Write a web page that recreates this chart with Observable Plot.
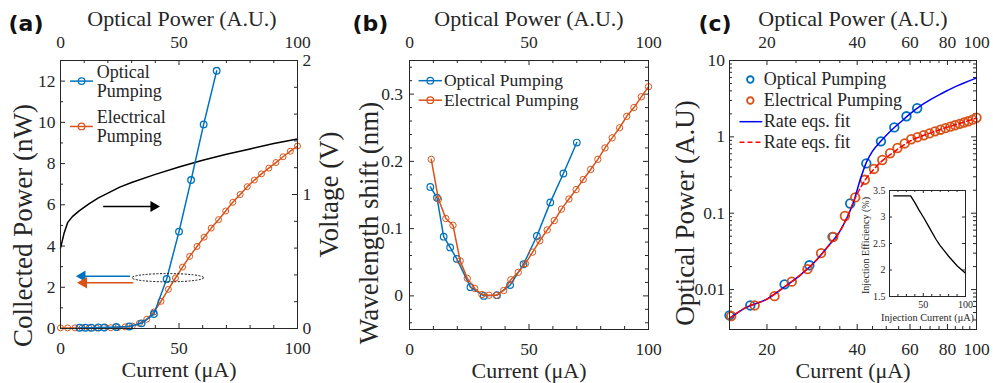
<!DOCTYPE html>
<html><head><meta charset="utf-8">
<script src="https://cdn.jsdelivr.net/npm/d3@7"></script>
<script src="https://cdn.jsdelivr.net/npm/@observablehq/plot@0.6"></script>
<style>
body{margin:0;background:#fff;}
#chart{position:relative;width:993px;height:383px;overflow:hidden;background:#fff;}
#chart svg{position:absolute;left:0;top:0;}
</style></head><body><div id="chart"></div>
<script>
// ---------- Panel (a): collected power & voltage vs current ----------
const aOptX = [8, 10.5, 13, 16, 18.5, 23.5, 29, 34.2, 39.4, 44.8, 50, 55.1, 60.4, 65.9];
const aOptY = [0.04, 0.04, 0.04, 0.05, 0.05, 0.07, 0.1, 0.25, 0.7, 2.4, 4.7, 7.2, 9.9, 12.5];
const aEleX = [0, 3, 6.1, 9.1, 12.1, 15.2, 18.2, 21.2, 24.2, 27.3, 30.3, 33.3, 36.4, 39.4, 42.4, 45.5, 48.5, 51.5, 54.5, 57.6, 60.6, 63.6, 66.7, 69.7, 72.7, 75.8, 78.8, 81.8, 84.8, 87.9, 90.9, 93.9, 97, 100];
const aEleY = [0.03, 0.03, 0.03, 0.03, 0.03, 0.03, 0.04, 0.04, 0.05, 0.08, 0.12, 0.25, 0.45, 0.8, 1.32, 1.9, 2.45, 2.98, 3.5, 3.98, 4.43, 4.87, 5.28, 5.7, 6.12, 6.5, 6.88, 7.2, 7.5, 7.78, 8.05, 8.33, 8.6, 8.85];
const aVoltX = [0, 1.5, 3, 5, 8, 12, 16, 20, 25, 30, 40, 50, 60, 70, 80, 90, 100];
const aVoltV = [0.6, 0.71, 0.79, 0.835, 0.88, 0.93, 0.975, 1.01, 1.055, 1.09, 1.15, 1.205, 1.255, 1.3, 1.34, 1.38, 1.415];
const aXMajor = [0, 50, 100];
const aXMinor = [10, 20, 30, 40, 60, 70, 80, 90];
const aYMajor = [0, 2, 4, 6, 8, 10, 12];
const aYMinor = [1, 3, 5, 7, 9, 11, 13];
const aVMajor = [0, 1, 2];
const aVMinor = [0.2, 0.4, 0.6, 0.8, 1.2, 1.4, 1.6, 1.8];

// ---------- Panel (b): wavelength shift ----------
const bOptX = [8.7, 11.5, 14.3, 17.0, 19.8, 25.5, 31.1, 36.6, 42.1, 47.7, 53.3, 58.9, 64.4, 70.0];
const bOptY = [0.162, 0.146, 0.088, 0.072, 0.055, 0.013, 0.0, 0.001, 0.016, 0.047, 0.089, 0.139, 0.182, 0.228];
const bEleX = [9.1, 12.1, 15.2, 18.2, 21.2, 24.2, 27.3, 30.3, 33.3, 36.4, 39.4, 42.4, 45.5, 48.5, 51.5, 54.5, 57.6, 60.6, 63.6, 66.7, 69.7, 72.7, 75.8, 78.8, 81.8, 84.8, 87.9, 90.9, 93.9, 97, 100];
const bEleY = [0.203, 0.144, 0.115, 0.105, 0.052, 0.026, 0.011, 0.002, 0.001, 0.001, 0.008, 0.024, 0.035, 0.048, 0.065, 0.082, 0.098, 0.112, 0.129, 0.144, 0.158, 0.173, 0.188, 0.203, 0.220, 0.235, 0.250, 0.267, 0.280, 0.296, 0.311];
const bXMajor = [0, 50, 100];
const bXMinor = [10, 20, 30, 40, 60, 70, 80, 90];
const bYMajor = [0, 0.1, 0.2, 0.3];
const bYMinor = [-0.04, -0.02, 0.02, 0.04, 0.06, 0.08, 0.12, 0.14, 0.16, 0.18, 0.22, 0.24, 0.26, 0.28, 0.32, 0.34];

// ---------- Panel (c): optical power (log-log) ----------
const cOptX = [15, 17.6, 22.9, 27.7, 33.1, 37.9, 42.9, 48, 53.2, 58.4, 63.4];
const cOptY = [0.0046, 0.0062, 0.0117, 0.0208, 0.049, 0.134, 0.449, 0.873, 1.33, 1.86, 2.37];
const cEleX = [15.2, 18.2, 21.2, 24.2, 27.3, 30.3, 33.3, 36.4, 39.4, 42.4, 45.5, 48.5, 51.5, 54.5, 57.6, 60.6, 63.6, 66.7, 69.7, 72.7, 75.8, 78.8, 81.8, 84.8, 87.9, 90.9, 93.9, 97, 100];
const cEleY = [0.0045, 0.0062, 0.0082, 0.0127, 0.0185, 0.030, 0.049, 0.092, 0.161, 0.274, 0.38, 0.498, 0.61, 0.715, 0.82, 0.93, 0.99, 1.05, 1.11, 1.18, 1.24, 1.3, 1.36, 1.42, 1.48, 1.54, 1.6, 1.68, 1.78];
const cFitX = [15, 17, 20, 23, 26, 29, 32, 35, 37, 39, 41, 43, 45, 48, 52, 56, 60, 65, 70, 75, 80, 85, 90, 95, 100];
const cFitOptY = [0.0042, 0.0058, 0.0075, 0.011, 0.0158, 0.0235, 0.037, 0.058, 0.088, 0.145, 0.28, 0.47, 0.65, 0.88, 1.22, 1.58, 2.0, 2.55, 3.05, 3.55, 4.05, 4.55, 5.0, 5.45, 5.9];
const cFitEleY = [0.0042, 0.0058, 0.0075, 0.011, 0.0158, 0.0235, 0.037, 0.058, 0.088, 0.145, 0.215, 0.29, 0.36, 0.47, 0.6, 0.74, 0.88, 1.01, 1.12, 1.23, 1.34, 1.44, 1.54, 1.65, 1.76];
const cXMajor = [20, 40, 60, 80, 100];
const cXMinor = [25, 30, 35, 45, 50, 55, 65, 70, 75, 85, 90, 95];
const cYMajor = [0.01, 0.1, 1, 10];
const cYMinor = [0.003, 0.004, 0.005, 0.006, 0.007, 0.008, 0.009, 0.02, 0.03, 0.04, 0.05, 0.06, 0.07, 0.08, 0.09, 0.2, 0.3, 0.4, 0.5, 0.6, 0.7, 0.8, 0.9, 2, 3, 4, 5, 6, 7, 8, 9];

// ---------- Inset: injection efficiency ----------
const iX = [15, 35, 40, 45, 50, 55, 60, 65, 70, 75, 80, 85, 90, 95, 100];
const iY = [3.4, 3.4, 3.27, 3.13, 3.0, 2.86, 2.72, 2.58, 2.46, 2.36, 2.26, 2.17, 2.08, 2.01, 1.94];
const iXMajor = [50, 100];
const iXMinor = [20, 30, 40, 60, 70, 80, 90];
const iYMajor = [1.5, 2, 2.5, 3, 3.5];

// ---------- styling ----------
const INK = "#262626", BLUE = "#0072BD", ORANGE = "#D95319";
const W = 993, H = 383;
const SERIF = "'Liberation Serif', 'Times New Roman', serif";
const VSCALE = 13 / 2; // voltage axis (0–2 V) mapped onto 0–13 nW
const zip = (xs, ys) => xs.map((x, i) => ({x, y: ys[i]}));

const tickB = (v, len, fh) => Plot.ruleX(v, {x: d => d, insetTop: fh - len, stroke: INK, strokeWidth: 1});
const tickT = (v, len, fh) => Plot.ruleX(v, {x: d => d, insetBottom: fh - len, stroke: INK, strokeWidth: 1});
const tickL = (v, len, fw, f = d => d) => Plot.ruleY(v, {y: f, insetRight: fw - len, stroke: INK, strokeWidth: 1});
const tickR = (v, len, fw, f = d => d) => Plot.ruleY(v, {y: f, insetLeft: fw - len, stroke: INK, strokeWidth: 1});
const fmt = d => String(d);
const baseStyle = {background: "transparent", overflow: "visible", fontFamily: SERIF, fontSize: "17.5px", color: INK};

function ellipseMark(e) {
  return (index, scales) => {
    const cx = scales.x(e.cx), cy = scales.y(e.cy);
    const rx = Math.abs(scales.x(e.cx + e.rx) - cx), ry = Math.abs(scales.y(e.cy + e.ry) - cy);
    const el = document.createElementNS("http://www.w3.org/2000/svg", "ellipse");
    el.setAttribute("cx", cx); el.setAttribute("cy", cy);
    el.setAttribute("rx", rx); el.setAttribute("ry", ry);
    el.setAttribute("fill", "none"); el.setAttribute("stroke", "#111");
    el.setAttribute("stroke-width", 1); el.setAttribute("stroke-dasharray", "2,1.5");
    return el;
  };
}
function panelLabel(t, dx) {
  return Plot.text([t], {frameAnchor: "top-left", dx, dy: -30, textAnchor: "start", lineAnchor: "bottom",
    fontFamily: "'DejaVu Sans', sans-serif", fontWeight: "bold", fontSize: 22, fill: "#111"});
}
function titles({bottom, top, left, leftDx, leftDy, topDx = 0, right, rightDx, rightDy}) {
  const m = [
    Plot.text([bottom], {frameAnchor: "bottom", dy: 48, lineAnchor: "bottom", textAnchor: "middle", fontSize: 22, fill: INK}),
    Plot.text([top], {frameAnchor: "top", dx: topDx, dy: -35, lineAnchor: "bottom", textAnchor: "middle", fontSize: 22, fill: INK}),
    Plot.text([left], {frameAnchor: "left", rotate: -90, dx: leftDx, dy: leftDy, lineAnchor: "middle", textAnchor: "middle", fontSize: 27, fill: INK})
  ];
  if (right) m.push(Plot.text([right], {frameAnchor: "right", rotate: -90, dx: rightDx, dy: rightDy, lineAnchor: "middle", textAnchor: "middle", fontSize: 27, fill: INK}));
  return m;
}

const chart = document.getElementById("chart");

// ===== Panel (a) =====
{
  const mL = 60, mR = 696, mT = 60, mB = 55;
  const fw = W - mL - mR, fh = H - mT - mB;
  const opt = zip(aOptX, aOptY), ele = zip(aEleX, aEleY);
  const volt = zip(aVoltX, aVoltV);
  const arrowV = {x1: 18, x2: 39.3, y: 5.92};
  const arrowB = {x1: 29.3, x2: 9.2, y: 2.54};
  const arrowO = {x1: 30.7, x2: 9.8, y: 2.22};
  const ell = {cx: 45.5, cy: 2.44, rx: 15.1, ry: 0.2};
  const legA = [
    {label: "Optical\nPumping", x1: 4, x2: 13.7, xm: 8.9, xt: 15.3, y: 12.0, c: BLUE},
    {label: "Electrical\nPumping", x1: 4, x2: 13.7, xm: 8.9, xt: 15.3, y: 9.8, c: ORANGE}
  ];
  const svg = Plot.plot({
    width: W, height: H, marginLeft: mL, marginRight: mR, marginTop: mT, marginBottom: mB,
    style: baseStyle,
    x: {domain: [0, 100]}, y: {domain: [0, 13]},
    color: {type: "identity"},
    marks: [
      tickB(aXMajor, 5, fh), tickB(aXMinor, 3, fh), tickT(aXMajor, 5, fh), tickT(aXMinor, 3, fh),
      tickL(aYMajor, 5, fw), tickL(aYMinor, 3, fw),
      tickR(aVMajor, 5, fw, d => d * VSCALE), tickR(aVMinor, 3, fw, d => d * VSCALE),
      Plot.line(volt, {x: "x", y: d => d.y * VSCALE, stroke: "#000", strokeWidth: 1.5}),
      Plot.line(ele, {x: "x", y: "y", stroke: ORANGE, strokeWidth: 1.5}),
      Plot.dot(ele, {x: "x", y: "y", r: 3, stroke: ORANGE, strokeWidth: 1, fill: "none"}),
      Plot.line(opt, {x: "x", y: "y", stroke: BLUE, strokeWidth: 1.5}),
      Plot.dot(opt, {x: "x", y: "y", r: 3.3, stroke: BLUE, strokeWidth: 1.3, fill: "none"}),
      // annotation arrows
      Plot.link([arrowV], {x1: "x1", x2: "x2", y1: "y", y2: "y", stroke: "#000", strokeWidth: 1.5}),
      Plot.dot([arrowV], {x: "x2", y: "y", symbol: "triangle", r: 4.1, rotate: 90, fill: "#000", stroke: "none"}),
      Plot.link([arrowB], {x1: "x1", x2: "x2", y1: "y", y2: "y", stroke: BLUE, strokeWidth: 1.5}),
      Plot.dot([arrowB], {x: "x2", y: "y", symbol: "triangle", r: 4.1, rotate: -90, fill: BLUE, stroke: "none"}),
      Plot.link([arrowO], {x1: "x1", x2: "x2", y1: "y", y2: "y", stroke: ORANGE, strokeWidth: 1.5}),
      Plot.dot([arrowO], {x: "x2", y: "y", symbol: "triangle", r: 4.3, rotate: -90, fill: ORANGE, stroke: "none"}),
      ellipseMark(ell),
      // legend
      Plot.link(legA, {x1: "x1", x2: "x2", y1: "y", y2: "y", stroke: d => d.c, strokeWidth: 1.5}),
      Plot.dot(legA, {x: "xm", y: "y", r: 3.3, stroke: d => d.c, strokeWidth: 1.2, fill: "none"}),
      Plot.text(legA, {x: "xt", y: "y", text: "label", textAnchor: "start", lineAnchor: "middle", lineHeight: 1.05, fontSize: 18, fill: INK}),
      // axes
      Plot.axisX(aXMajor, {anchor: "bottom", tickSize: 0, tickPadding: 25, lineAnchor: "bottom", text: fmt, label: null}),
      Plot.axisX(aXMajor, {anchor: "top", tickSize: 0, tickPadding: 13, lineAnchor: "bottom", text: fmt, label: null}),
      Plot.axisY(aYMajor, {anchor: "left", tickSize: 0, tickPadding: 5, text: fmt, label: null}),
      Plot.axisY(aVMajor.map(v => v * VSCALE), {anchor: "right", tickSize: 0, tickPadding: 5, text: d => String(Math.round(d / VSCALE)), label: null}),
      ...titles({bottom: "Current (μA)", top: "Optical Power (A.U.)", topDx: 3, left: "Collected Power (nW)", leftDx: -37, leftDy: 31, right: "Voltage (V)", rightDx: 32, rightDy: 0}),
      panelLabel("(a)", 8 - mL),
      Plot.frame({stroke: INK, strokeWidth: 1})
    ]
  });
  chart.appendChild(svg);
}

// ===== Panel (b) =====
{
  const mL = 409, mR = 345, mT = 60, mB = 54;
  const fw = W - mL - mR, fh = H - mT - mB;
  const opt = zip(bOptX, bOptY), ele = zip(bEleX, bEleY);
  const legB = [
    {label: "Optical Pumping", x1: 3.8, x2: 13.6, xm: 8.7, xt: 14.4, y: 0.32, c: BLUE},
    {label: "Electrical Pumping", x1: 3.8, x2: 13.6, xm: 8.7, xt: 14.4, y: 0.291, c: ORANGE}
  ];
  const svg = Plot.plot({
    width: W, height: H, marginLeft: mL, marginRight: mR, marginTop: mT, marginBottom: mB,
    style: baseStyle,
    x: {domain: [0, 100]}, y: {domain: [-0.05, 0.35]},
    color: {type: "identity"},
    marks: [
      tickB(bXMajor, 5, fh), tickB(bXMinor, 3, fh), tickT(bXMajor, 5, fh), tickT(bXMinor, 3, fh),
      tickL(bYMajor, 5, fw), tickL(bYMinor, 3, fw), tickR(bYMajor, 5, fw), tickR(bYMinor, 3, fw),
      Plot.line(opt, {x: "x", y: "y", stroke: BLUE, strokeWidth: 1.5}),
      Plot.dot(opt, {x: "x", y: "y", r: 3.3, stroke: BLUE, strokeWidth: 1.2, fill: "none"}),
      Plot.line(ele, {x: "x", y: "y", stroke: ORANGE, strokeWidth: 1.5}),
      Plot.dot(ele, {x: "x", y: "y", r: 3.2, stroke: ORANGE, strokeWidth: 1, fill: "none"}),
      Plot.link(legB, {x1: "x1", x2: "x2", y1: "y", y2: "y", stroke: d => d.c, strokeWidth: 1.5}),
      Plot.dot(legB, {x: "xm", y: "y", r: 3.3, stroke: d => d.c, strokeWidth: 1.2, fill: "none"}),
      Plot.text(legB, {x: "xt", y: "y", text: "label", textAnchor: "start", lineAnchor: "middle", fontSize: 17.5, fill: INK}),
      Plot.axisX(bXMajor, {anchor: "bottom", tickSize: 0, tickPadding: 25, lineAnchor: "bottom", text: fmt, label: null}),
      Plot.axisX(bXMajor, {anchor: "top", tickSize: 0, tickPadding: 13, lineAnchor: "bottom", text: fmt, label: null}),
      Plot.axisY(bYMajor, {anchor: "left", tickSize: 0, tickPadding: 6.5, text: fmt, label: null}),
      ...titles({bottom: "Current (μA)", top: "Optical Power (A.U.)", left: "Wavelength shift (nm)", leftDx: -40.5, leftDy: 28}),
      panelLabel("(b)", 352 - mL),
      Plot.frame({stroke: INK, strokeWidth: 1})
    ]
  });
  chart.appendChild(svg);
}

// ===== Panel (c) =====
{
  const mL = 729, mR = 17, mT = 60, mB = 54;
  const fw = W - mL - mR, fh = H - mT - mB;
  const opt = zip(cOptX, cOptY), ele = zip(cEleX, cEleY);
  const fitO = zip(cFitX, cFitOptY), fitE = zip(cFitX, cFitEleY);
  const legPts = [
    {label: "Optical Pumping", xm: 17.6, xt: 19.5, y: 5.63, c: BLUE},
    {label: "Electrical Pumping", xm: 17.6, xt: 19.5, y: 2.99, c: ORANGE}
  ];
  const legLines = [
    {label: "Rate eqs. fit", x1: 16.2, x2: 19.3, xt: 19.5, y: 1.58},
    {label: "Rate eqs. fit", x1: 16.2, x2: 19.3, xt: 19.5, y: 0.847}
  ];
  const svg = Plot.plot({
    width: W, height: H, marginLeft: mL, marginRight: mR, marginTop: mT, marginBottom: mB,
    style: baseStyle,
    x: {type: "log", domain: [15, 100]}, y: {type: "log", domain: [0.003, 10]},
    color: {type: "identity"},
    marks: [
      tickB(cXMajor, 5, fh), tickB(cXMinor, 3, fh), tickT(cXMajor, 5, fh), tickT(cXMinor, 3, fh),
      tickL(cYMajor, 5, fw), tickL(cYMinor, 3, fw), tickR(cYMajor, 5, fw), tickR(cYMinor, 3, fw),
      Plot.dot(opt, {x: "x", y: "y", r: 4.3, stroke: BLUE, strokeWidth: 1.8, fill: "none"}),
      Plot.dot(ele, {x: "x", y: "y", r: 4.3, stroke: ORANGE, strokeWidth: 1.8, fill: "none"}),
      Plot.line(fitO, {x: "x", y: "y", stroke: "#0000FF", strokeWidth: 1.5, curve: "monotone-x"}),
      Plot.line(fitE, {x: "x", y: "y", stroke: "#FF0000", strokeWidth: 1.5, strokeDasharray: "5,3", curve: "monotone-x"}),
      Plot.dot(legPts, {x: "xm", y: "y", r: 3.3, stroke: d => d.c, strokeWidth: 1.8, fill: "none"}),
      Plot.link([legLines[0]], {x1: "x1", x2: "x2", y1: "y", y2: "y", stroke: "#0000FF", strokeWidth: 1.5}),
      Plot.link([legLines[1]], {x1: "x1", x2: "x2", y1: "y", y2: "y", stroke: "#FF0000", strokeWidth: 1.5, strokeDasharray: "5,3"}),
      Plot.text([...legPts, ...legLines], {x: "xt", y: "y", text: "label", textAnchor: "start", lineAnchor: "middle", fontSize: 18, fill: INK}),
      Plot.axisX(cXMajor, {anchor: "bottom", tickSize: 0, tickPadding: 25, lineAnchor: "bottom", text: fmt, label: null}),
      Plot.axisX(cXMajor, {anchor: "top", tickSize: 0, tickPadding: 13, lineAnchor: "bottom", text: fmt, label: null}),
      Plot.axisY(cYMajor, {anchor: "left", tickSize: 0, tickPadding: 4.5, text: fmt, label: null}),
      ...titles({bottom: "Current (μA)", top: "Optical Power (A.U.)", left: "Optical Power (A.U)", leftDx: -44.5, leftDy: 18}),
      panelLabel("(c)", 698 - mL),
      Plot.frame({stroke: INK, strokeWidth: 1})
    ]
  });
  chart.appendChild(svg);
}

// ===== Inset =====
{
  const mL = 889, mR = 28, mT = 190, mB = 87;
  const fw = W - mL - mR, fh = H - mT - mB;
  const eff = zip(iX, iY);
  const svg = Plot.plot({
    width: W, height: H, marginLeft: mL, marginRight: mR, marginTop: mT, marginBottom: mB,
    style: {...baseStyle, fontSize: "10px"},
    x: {domain: [10, 100]}, y: {domain: [1.5, 3.5]},
    marks: [
      Plot.frame({fill: "#fff", stroke: "none"}),
      tickB(iXMajor, 3, fh), tickB(iXMinor, 2, fh), tickT(iXMajor, 3, fh), tickT(iXMinor, 2, fh),
      tickL(iYMajor, 3, fw), tickR(iYMajor, 3, fw),
      Plot.line(eff, {x: "x", y: "y", stroke: "#000", strokeWidth: 1.3}),
      Plot.axisX(iXMajor, {anchor: "bottom", tickSize: 0, tickPadding: 11, lineAnchor: "bottom", text: fmt, label: null, fontSize: 10}),
      Plot.axisY(iYMajor, {anchor: "left", tickSize: 0, tickPadding: 4, text: fmt, label: null, fontSize: 10}),
      Plot.text(["Injection Current (μA)"], {frameAnchor: "bottom", dy: 24, lineAnchor: "bottom", textAnchor: "middle", fontSize: 10.3, fill: INK}),
      Plot.text(["Injection Efficiency (%)"], {frameAnchor: "left", rotate: -90, dx: -23.5, dy: 2, lineAnchor: "middle", textAnchor: "middle", fontSize: 10, fill: INK}),
      Plot.frame({stroke: INK, strokeWidth: 1})
    ]
  });
  chart.appendChild(svg);
}
</script></body></html>
